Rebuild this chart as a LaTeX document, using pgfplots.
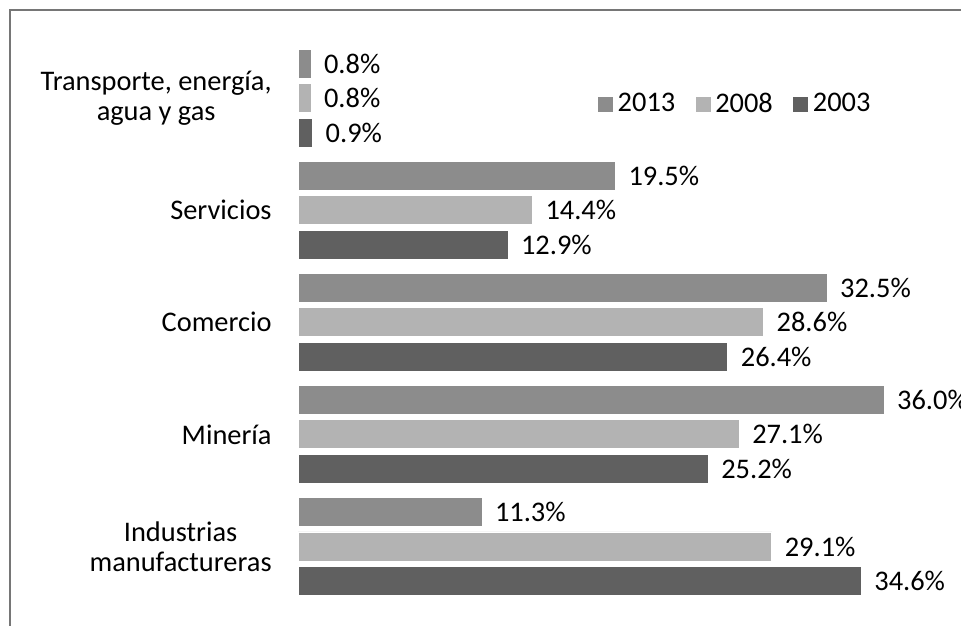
\documentclass[border=0pt]{standalone}
\usepackage{fontspec}
\setmainfont{Carlito}
\usepackage{pgfplots}
\pgfplotsset{compat=1.18}
\definecolor{c13}{HTML}{8C8C8C}
\definecolor{c08}{HTML}{B3B3B3}
\definecolor{c03}{HTML}{606060}
\definecolor{frame}{HTML}{767676}
\begin{document}
\begin{tikzpicture}
\useasboundingbox (0,0) rectangle (480.5pt,-312.5pt);
\draw[frame, line width=1pt] (5.2pt,-320pt) -- (5.2pt,-5.2pt) -- (490pt,-5.2pt);
\begin{axis}[
  at={(149pt,-301.25pt)}, anchor=south west,
  scale only axis, width=325.6pt, height=280.25pt,
  xbar, bar width=0.2587,
  xmin=0, xmax=40, ymin=-0.5, ymax=4.5,
  clip=false,
  hide x axis,
  axis y line*=left, y axis line style={draw=none},
  major tick length=0,
  ytick={0,1,2,3,4},
  yticklabels={{Industrias\\manufactureras},Minería,Comercio,Servicios,{Transporte, energía,\\agua y gas}},
  yticklabel style={align=center, inner sep=0pt, xshift=-13pt,
    font=\fontsize{14.2}{15}\selectfont},
  nodes near coords={\pgfmathprintnumber[fixed,zerofill,precision=1,assume math mode=true]{\pgfplotspointmeta}\%},
  nodes near coords style={anchor=west, xshift=3pt, font=\fontsize{14.2}{15}\selectfont},
  legend columns=3,
  legend style={at={(0.459,0.889)}, anchor=west, draw=none, fill=none,
    inner sep=0pt, font=\fontsize{14.2}{15}\selectfont,
    nodes={inner sep=1.8pt},
    /tikz/every even column/.append style={column sep=8pt}},
  legend image code/.code={\fill[#1] (0pt,-4pt) rectangle (8pt,4pt);},
]
\addplot[fill=c13, draw=white, line width=0.4pt, bar shift=0.3078] coordinates {
  (11.3,0) (36.0,1) (32.5,2) (19.5,3) (0.8,4)};
\addplot[fill=c08, draw=white, line width=0.4pt, bar shift=0] coordinates {
  (29.1,0) (27.1,1) (28.6,2) (14.4,3) (0.8,4)};
\addplot[fill=c03, draw=white, line width=0.4pt, bar shift=-0.3078] coordinates {
  (34.6,0) (25.2,1) (26.4,2) (12.9,3) (0.9,4)};
\legend{2013,2008,2003}
\end{axis}
\end{tikzpicture}
\end{document}
